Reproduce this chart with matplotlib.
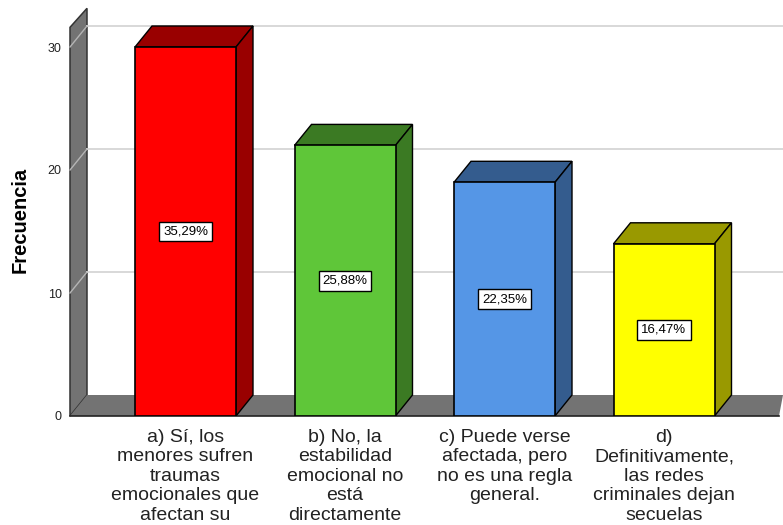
#!/usr/bin/env python3
# -*- coding: utf-8 -*-
import matplotlib
matplotlib.use("Agg")
import matplotlib.pyplot as plt
from matplotlib.patches import Polygon

plt.rcParams['font.family'] = ['Liberation Sans', 'DejaVu Sans']

# Donnees
categories = ["a) Sí, los\nmenores sufren\ntraumas\nemocionales que\nafectan su",
              "b) No, la\nestabilidad\nemocional no\nestá\ndirectamente",
              "c) Puede verse\nafectada, pero\nno es una regla\ngeneral.",
              "d)\nDefinitivamente,\nlas redes\ncriminales dejan\nsecuelas"]
frecuencia = [30, 22, 19, 14]
porcentajes = ["35,29%", "25,88%", "22,35%", "16,47%"]
yticks = [0, 10, 20, 30]
colors_front = ["#ff0000", "#5fc639", "#5596e6", "#ffff00"]
colors_top = ["#990000", "#3b7a23", "#345c8e", "#999900"]

W, H = 783, 525
px_x = 159.5  # pixels entre deux barres
px_y = 12.3   # pixels par unite de frequence
left_px, bottom_px = 70, 416

fig = plt.figure(figsize=(W / 100, H / 100), dpi=100)
ax = fig.add_axes([left_px / W, (H - bottom_px) / H, (W - left_px) / W, bottom_px / H])
xmin = -(185.5 - left_px) / px_x
xmax = (W - 185.5) / px_x
ymax = bottom_px / px_y
ax.set_xlim(xmin, xmax)
ax.set_ylim(0, ymax)
for s in ax.spines.values():
    s.set_visible(False)

dx = 17 / px_x  # profondeur 3D
dy = 21 / px_y
bar_w = 101 / px_x
pos = list(range(len(frecuencia)))

# parois du fond
wall_top = 31.6
ax.add_patch(Polygon([(xmin, 0), (xmin + dx, dy), (xmin + dx, wall_top + 19 / px_y), (xmin, wall_top)],
                     fc="#737373", ec="#333333", lw=1.1, zorder=1, clip_on=False))
ax.add_patch(Polygon([(xmin, 0), (xmin + dx, dy), (xmax, dy), (xmax - 4 / px_x, 0)],
                     fc="#737373", ec="none", zorder=1, clip_on=False))
ax.plot([xmin, xmax - 4 / px_x], [0, 0], color="#222222", lw=1.2, zorder=2, clip_on=False)

# grille
for v in yticks[1:]:
    ax.plot([xmin, xmin + dx], [v, v + dy], color="#b5b5b5", lw=1, zorder=2, clip_on=False)
    ax.plot([xmin + dx, xmax], [v + dy, v + dy], color="#d8d8d8", lw=1.4, zorder=1, clip_on=False)

# barres
ax.bar(pos, frecuencia, width=bar_w, color=colors_front, edgecolor="black", linewidth=1.2, zorder=4)
for i, val in enumerate(frecuencia):
    x0 = pos[i] - bar_w / 2
    x1 = pos[i] + bar_w / 2
    ax.add_patch(Polygon([(x0, val), (x1, val), (x1 + dx, val + dy), (x0 + dx, val + dy)],
                         fc=colors_top[i], ec="black", lw=1, zorder=3))
    ax.add_patch(Polygon([(x1, val), (x1 + dx, val + dy), (x1 + dx, dy), (x1, 0)],
                         fc=colors_top[i], ec="black", lw=1, zorder=3))
    ax.text(pos[i], val / 2, porcentajes[i], ha="center", va="center", fontsize=9.5, zorder=5,
            bbox=dict(boxstyle="square,pad=0.3", fc="white", ec="black", lw=1))

ax.set_yticks(yticks)
ax.tick_params(axis="y", length=0, pad=6, labelsize=9, labelcolor="#222222")
ax.set_xticks(pos)
ax.set_xticklabels(categories, fontsize=14, color="#222222", linespacing=1.2, va="top")
ax.tick_params(axis="x", length=0, pad=9)
ax.patch.set_alpha(0)

fig.text(20 / W, 1 - 220 / H, "Frecuencia", rotation=90, ha="center", va="center",
         fontsize=14.5, fontweight="bold", color="black")

fig.savefig("out.png", dpi=100)
